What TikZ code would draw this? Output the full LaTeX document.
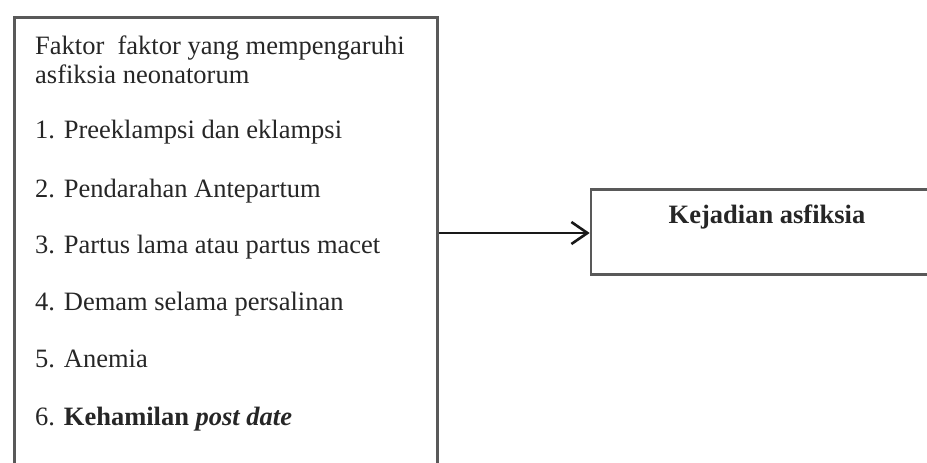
\documentclass[tikz,border=0pt]{standalone}
\usepackage{fontspec}
\setmainfont{Liberation Serif}
\usepackage{tikz}
\usetikzlibrary{arrows.meta,positioning}

\begin{document}
\begin{tikzpicture}[
      x=1pt, y=-1pt,
      frame/.style = {rectangle, draw=black!65, line width=2.6pt, inner sep=0pt},
      item/.style = {anchor=base west, inner sep=0pt, font=\fontsize{26.5}{29}\selectfont, text=black!85},
      arrow/.style = {-{Straight Barb[length=16pt, width=22pt, line width=2.6pt]}, line width=2.6pt, black!90}
    ]
    \useasboundingbox (0,0) rectangle (927,463);
    \clip (0,0) rectangle (927,463);
    \node[frame, anchor=north west, minimum width=423pt, minimum height=480pt] (faktor) at (13,16) {};
    \node[item, anchor=north west, align=left] (judul) at (35,36) {Faktor~ faktor yang mempengaruhi\\asfiksia neonatorum};
    \node[item] (f1) at (35,138) {1. Preeklampsi dan eklampsi};
    \node[item] (f2) at (35,197) {2. Pendarahan Antepartum};
    \node[item] (f3) at (35,253) {3. Partus lama atau partus macet};
    \node[item] (f4) at (35,310) {4. Demam selama persalinan};
    \node[item] (f5) at (35,367) {5. Anemia};
    \node[item] (f6) at (35,425) {6. \textbf{Kehamilan \textit{post date}}};
    \node[frame, anchor=north, minimum width=352pt, text height=17pt, text depth=34pt, inner ysep=17pt,
          font=\fontsize{26.5}{29}\selectfont\bfseries, text=black!85] (kejadian) at (767,188) {Kejadian asfiksia};
    \draw[arrow] (faktor.east |- 0,233) -- (kejadian.west |- 0,233);
  \end{tikzpicture}
\end{document}
